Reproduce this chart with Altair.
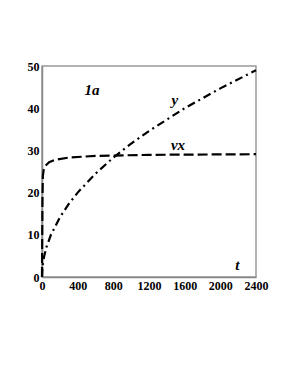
import altair as alt
import pandas as pd

t_y = [0, 5, 10, 25, 50, 100, 200, 300, 400, 600, 800, 1000, 1200, 1600, 2000, 2400]
y_vals = [0, 2.2, 3.2, 5.0, 7.1, 10.0, 14.1, 17.3, 20.0, 24.5, 28.3, 31.6, 34.6, 40.0, 44.7, 49.0]

t_vx = [0, 2, 5, 10, 20, 40, 80, 150, 300, 600, 1200, 2400]
vx_vals = [0, 8, 18, 24, 25.5, 26.4, 27.2, 27.8, 28.3, 28.7, 28.95, 29.1]

x_ticks = [0, 400, 800, 1200, 1600, 2000, 2400]
y_ticks = [0, 10, 20, 30, 40, 50]

labels = ["1a", "y", "vx", "t"]
label_t = [560, 1490, 1525, 2190]
label_v = [44.3, 41.9, 31.3, 2.8]

df = pd.concat([
    pd.DataFrame({"t": t_y, "v": y_vals, "s": "y"}),
    pd.DataFrame({"t": t_vx, "v": vx_vals, "s": "vx"}),
])
lab = pd.DataFrame({"label": labels, "t": label_t, "v": label_v})

xs = alt.Scale(domain=[0, 2400], nice=False, zero=False)
ys = alt.Scale(domain=[0, 50], nice=False)

ax_common = dict(labelFont="Liberation Serif", labelFontWeight="bold", labelFontSize=12,
                 labelColor="black", ticks=False, grid=False, title=None, labelPadding=3,
                 domainColor="#888", domainWidth=1.5, labelOverlap=False, format="d",
                 labelFlush=False, labelBound=False)
x_axis = alt.Axis(values=x_ticks, **ax_common)
y_axis = alt.Axis(values=y_ticks, **ax_common)

lines = alt.Chart(df).mark_line(strokeWidth=2.2, color="black").encode(
    x=alt.X("t:Q", scale=xs, axis=x_axis),
    y=alt.Y("v:Q", scale=ys, axis=y_axis),
    strokeDash=alt.StrokeDash("s:N", scale=alt.Scale(domain=["y", "vx"], range=[[8, 4, 2, 4], [10, 4]]), legend=None),
    detail="s:N",
)

text = alt.Chart(lab).mark_text(font="Liberation Serif", fontWeight="bold", fontStyle="italic",
                                 fontSize=15, color="black").encode(
    x=alt.X("t:Q", scale=xs, axis=x_axis),
    y=alt.Y("v:Q", scale=ys, axis=y_axis),
    text="label:N",
)

chart = alt.layer(lines, text).properties(
    width=214, height=211,
    autosize=alt.AutoSizeParams(type="none"),
    padding={"left": 34, "top": 58, "right": 25, "bottom": 80},
).configure_view(stroke="#999", strokeWidth=1.5).configure_axis(labelOverlap=False)

chart.save("out.html", embed_options={"renderer": "svg", "actions": False})
